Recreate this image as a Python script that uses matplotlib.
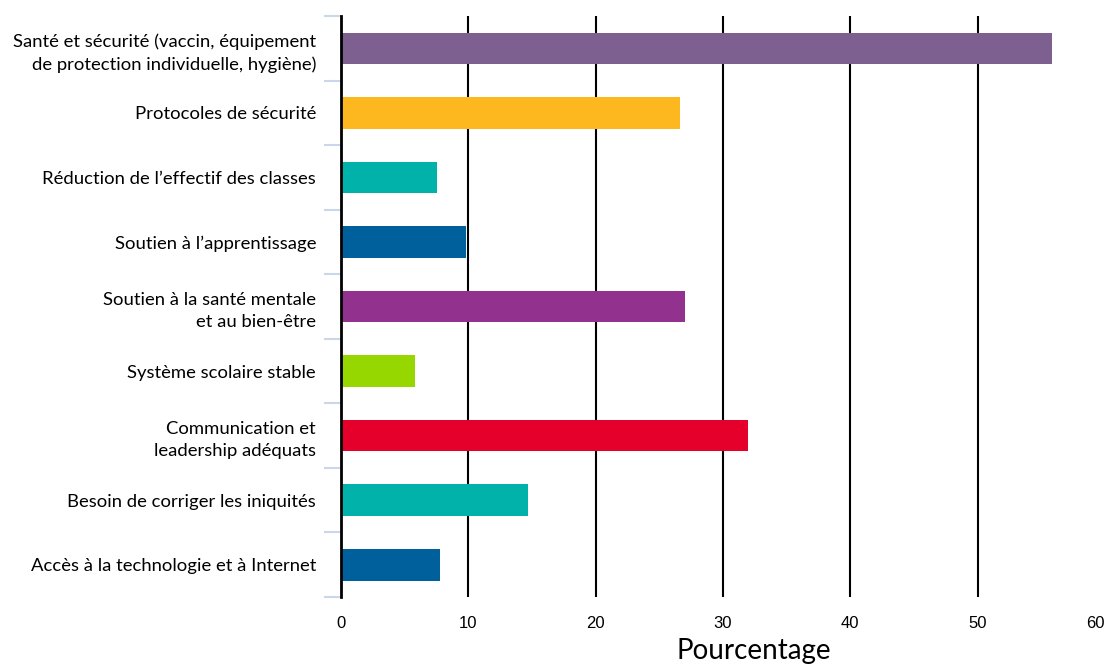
import numpy as np
import matplotlib.pyplot as plt

categories = [
    "Santé et sécurité (vaccin, équipement\nde protection individuelle, hygiène)",
    "Protocoles de sécurité",
    "Réduction de l’effectif des classes",
    "Soutien à l’apprentissage",
    "Soutien à la santé mentale\net au bien-être",
    "Système scolaire stable",
    "Communication et\nleadership adéquats",
    "Besoin de corriger les iniquités",
    "Accès à la technologie et à Internet",
]
values = [55.8, 26.6, 7.5, 9.8, 27.0, 5.8, 32.0, 14.7, 7.8]
colors = ["#7d6090", "#fdb71f", "#00b2a9", "#00609c", "#93328e",
          "#97d700", "#e4002b", "#00b2a9", "#00609c"]
xticks = [0, 10, 20, 30, 40, 50, 60]

fig = plt.figure(figsize=(11.05, 6.7), dpi=100)
ax = fig.add_axes([0.3086, 0.109, 0.6914, 0.867])

ypos = np.arange(len(categories))
ax.barh(ypos, values, height=0.49, color=colors, zorder=3)
ax.set_ylim(len(categories) - 0.5, -0.5)
ax.set_xlim(0, 60)

for x in xticks[1:-1]:
    ax.axvline(x, color="black", lw=1.5, zorder=2)

for s in ["top", "right", "bottom"]:
    ax.spines[s].set_visible(False)
ax.spines["left"].set_color("black")
ax.spines["left"].set_linewidth(2)
ax.spines["left"].set_zorder(4)

ax.set_yticks(ypos)
ax.set_yticklabels(categories, family="Lato", fontsize=13.3, linespacing=1.45)
ax.set_yticks(np.arange(-0.5, len(categories) + 0.5, 1), minor=True)
ax.tick_params(axis="y", which="major", length=0, pad=18)
ax.tick_params(axis="y", which="minor", length=12, width=1.5, color="#ccd6eb")

ax.set_xticks(xticks)
ax.set_xticklabels([str(v) for v in xticks], family="Liberation Sans", fontsize=12)
ax.tick_params(axis="x", length=0, pad=14)
ax.get_xticklabels()[-1].set_horizontalalignment("right")

ax.set_xlabel("Pourcentage", family="Lato", fontsize=20)
ax.xaxis.set_label_coords(0.54, -0.07)

fig.savefig("out.png", dpi=100)
